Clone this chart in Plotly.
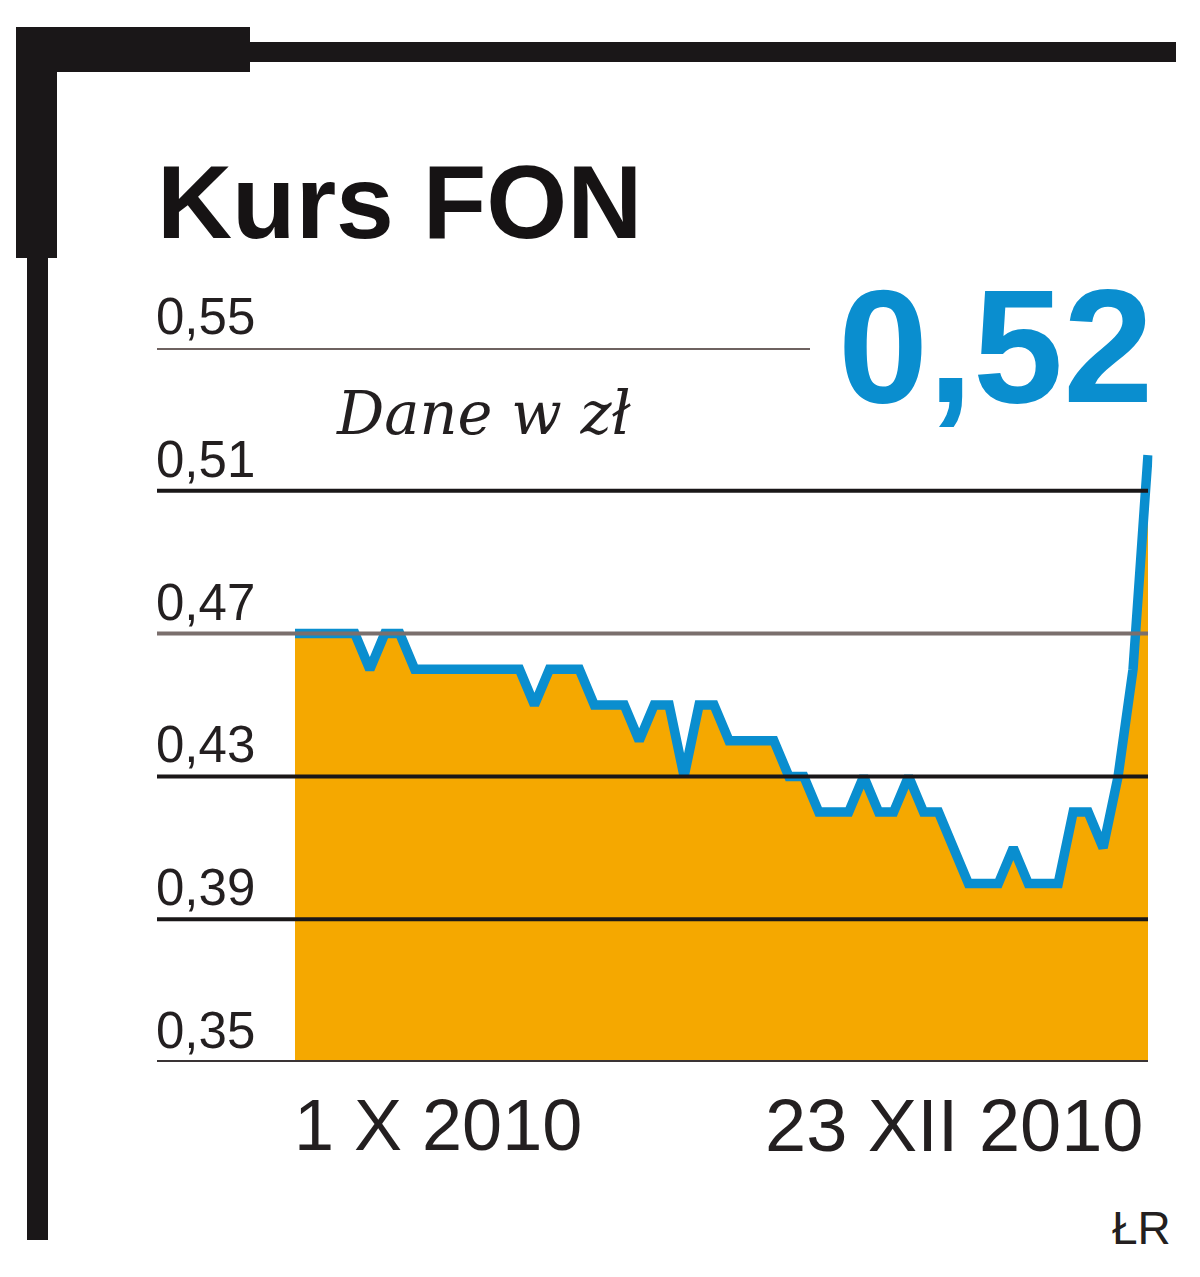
import plotly.graph_objects as go

# ---- data ----
session_index = list(range(58))
price = [0.47, 0.47, 0.47, 0.47, 0.47, 0.46, 0.47, 0.47,
         0.46, 0.46, 0.46, 0.46, 0.46, 0.46, 0.46, 0.46,
         0.45, 0.46, 0.46, 0.46, 0.45, 0.45, 0.45, 0.44,
         0.45, 0.45, 0.43, 0.45, 0.45, 0.44, 0.44, 0.44,
         0.44, 0.43, 0.43, 0.42, 0.42, 0.42, 0.43, 0.42,
         0.42, 0.43, 0.42, 0.42, 0.41, 0.40, 0.40, 0.40,
         0.41, 0.40, 0.40, 0.40, 0.42, 0.42, 0.41, 0.43,
         0.46, 0.52]
y_ticks = [0.35, 0.39, 0.43, 0.47, 0.51, 0.55]
y_tick_labels = ["0,35", "0,39", "0,43", "0,47", "0,51", "0,55"]
x_labels = ["1 X 2010", "23 XII 2010"]
title = "Kurs FON"
unit_note = "Dane w zł"
last_value_label = "0,52"
credit = "ŁR"

# page body has an 8px margin; figure sized to fit the window exactly
OFF = 8
W, H = 1200 - 2 * OFF, 1277 - 2 * OFF
ORANGE = "#F5A800"
BLUE = "#0A8ECF"
INK = "#231F20"

def px(x):
    return (x - OFF) / W

def py(y):
    return 1 - (y - OFF) / H

fig = go.Figure()
fig.add_trace(go.Scatter(
    x=session_index, y=price, mode="lines",
    line=dict(color=BLUE, width=9.5, shape="linear"),
    fill="tozeroy", fillcolor=ORANGE,
    hoverinfo="skip", showlegend=False,
))

# axis geometry: index 0 -> 295px, index 57 -> 1148px (window pixels)
x0_px, x1_px = 295, 1148
step = (x1_px - x0_px) / (len(session_index) - 1)
pad = 0.3
fig.update_xaxes(range=[-pad, len(session_index) - 1 + pad],
                 domain=[px(x0_px - pad * step), px(x1_px + pad * step)],
                 visible=False, fixedrange=True)
fig.update_yaxes(range=[0.35, 0.55], domain=[py(1062), py(348)],
                 visible=False, fixedrange=True)

shapes = []
grid_colors = {0.35: "#3a3435", 0.39: "#1a1718", 0.43: "#1a1718",
               0.47: "#7a6f6d", 0.51: "#1a1718", 0.55: "#6e6260"}
for v in y_ticks:
    right = 810 if v == 0.55 else 1148
    shapes.append(dict(type="line", xref="paper", yref="y",
                       x0=px(157), x1=px(right), y0=v, y1=v,
                       line=dict(color=grid_colors[v], width=4),
                       layer="above"))

# decorative frame
FRAME = "#1a1718"
for (xa, ya, xb, yb) in [(16, 27, 250, 72), (16, 27, 57, 258),
                         (250, 42, 1176, 62), (27, 258, 48, 1240)]:
    shapes.append(dict(type="rect", xref="paper", yref="paper",
                       x0=px(xa), x1=px(xb), y0=py(yb), y1=py(ya),
                       fillcolor=FRAME, line=dict(width=0), layer="above"))

annotations = []
for v, lab in zip(y_ticks, y_tick_labels):
    annotations.append(dict(xref="paper", yref="y", x=px(154), y=v,
                            text=lab, showarrow=False, xanchor="left",
                            yanchor="bottom", yshift=1,
                            font=dict(family="Liberation Sans, Arial", size=51, color=INK)))

annotations.append(dict(xref="paper", yref="paper", x=px(155), y=py(202),
                        text="<b>" + title + "</b>", showarrow=False,
                        xanchor="left", yanchor="middle",
                        font=dict(family="Liberation Sans, Arial",
                                  size=104, color="#161314")))
annotations.append(dict(xref="paper", yref="paper", x=px(334), y=py(414),
                        text="<i>" + unit_note + "</i>", showarrow=False,
                        xanchor="left", yanchor="middle",
                        font=dict(family="DejaVu Serif, serif", size=59, color=INK)))
annotations.append(dict(xref="paper", yref="paper", x=px(1155), y=py(346),
                        text="<b>" + last_value_label + "</b>", showarrow=False,
                        xanchor="right", yanchor="middle",
                        font=dict(family="Liberation Sans, Arial", size=162, color=BLUE)))
annotations.append(dict(xref="x", yref="paper", x=session_index[0], y=py(1125),
                        xshift=-3,
                        text=x_labels[0], showarrow=False,
                        xanchor="left", yanchor="middle",
                        font=dict(family="Liberation Sans, Arial", size=72, color=INK)))
annotations.append(dict(xref="x", yref="paper", x=session_index[-1], y=py(1125),
                        xshift=-2,
                        text=x_labels[1], showarrow=False,
                        xanchor="right", yanchor="middle",
                        font=dict(family="Liberation Sans, Arial", size=74, color=INK)))
annotations.append(dict(xref="paper", yref="paper", x=px(1173), y=py(1228),
                        text=credit, showarrow=False,
                        xanchor="right", yanchor="middle",
                        font=dict(family="Liberation Sans, Arial", size=46, color=INK)))

fig.update_layout(width=W, height=H, margin=dict(l=0, r=0, t=0, b=0),
                  paper_bgcolor="white", plot_bgcolor="white",
                  shapes=shapes, annotations=annotations, showlegend=False)

fig.write_html("out.html", config={"displayModeBar": False})
